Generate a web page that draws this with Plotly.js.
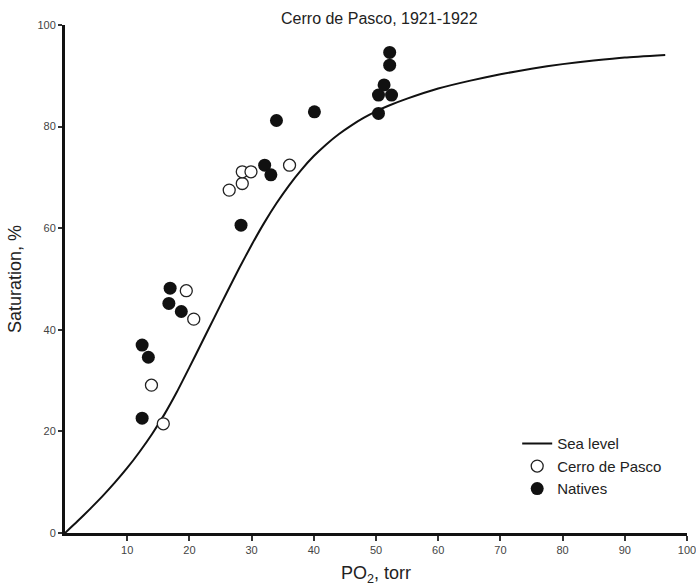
<!DOCTYPE html>
<html>
<head>
<meta charset="utf-8">
<script src="https://cdn.plot.ly/plotly-3.0.1.min.js"></script>
<style>html,body{margin:0;padding:0;background:#fff;}#chart{width:696px;height:586px;}</style>
</head>
<body>
<div id="chart"></div>
<script>
// Sea level oxygen dissociation curve
const seaLevelPO2 = [0, 2, 4, 6, 8, 10, 12, 14, 16, 18, 20, 22, 24, 26, 28, 30, 32, 34, 36, 38, 40, 42, 44, 46, 48, 50, 52, 55, 60, 65, 70, 75, 80, 85, 90, 96.5];
const seaLevelSat = [0, 2.3, 4.7, 7.2, 9.9, 12.8, 16.0, 19.5, 23.4, 27.8, 32.6, 37.5, 42.4, 47.3, 52.1, 56.7, 61.0, 64.9, 68.4, 71.5, 74.2, 76.5, 78.5, 80.2, 81.7, 83.0, 84.1, 85.5, 87.5, 89.0, 90.3, 91.4, 92.3, 93.0, 93.6, 94.1];

// Cerro de Pasco (open circles)
const cerroPO2 = [13.9, 15.8, 19.5, 20.7, 26.4, 28.5, 28.5, 29.9, 36.1];
const cerroSat = [29.1, 21.5, 47.7, 42.1, 67.5, 68.8, 71.1, 71.1, 72.4];

// Natives (filled circles)
const nativesPO2 = [12.4, 12.4, 13.4, 16.9, 16.7, 18.7, 28.3, 32.1, 33.1, 34.0, 40.1, 50.4, 50.4, 51.3, 52.5, 52.2, 52.2];
const nativesSat = [22.6, 37.0, 34.6, 48.2, 45.2, 43.6, 60.6, 72.4, 70.5, 81.2, 82.9, 82.6, 86.2, 88.2, 86.2, 92.1, 94.6];

const xTicks = [10, 20, 30, 40, 50, 60, 70, 80, 90, 100];
const yTicks = [0, 20, 40, 60, 80, 100];

const traces = [
  {x: seaLevelPO2, y: seaLevelSat, mode: 'lines', name: 'Sea level', line: {color: '#111', width: 2, shape: 'spline', smoothing: 0.5}},
  {x: cerroPO2, y: cerroSat, mode: 'markers', name: 'Cerro de Pasco', marker: {symbol: 'circle', size: 12, color: '#fff', line: {color: '#222', width: 1.3}}},
  {x: nativesPO2, y: nativesSat, mode: 'markers', name: 'Natives', marker: {symbol: 'circle', size: 13, color: '#111', line: {color: '#111', width: 0}}}
];

const layout = {
  width: 696, height: 586,
  margin: {l: 65, r: 9, t: 25, b: 53},
  paper_bgcolor: '#fff', plot_bgcolor: '#fff',
  font: {family: 'Liberation Sans, Arial, sans-serif', color: '#222'},
  title: {text: 'Cerro de Pasco, 1921-1922', font: {size: 16, color: '#222'}, x: 0.545, xanchor: 'center', y: 0.968, yanchor: 'middle', yref: 'container'},
  showlegend: true,
  legend: {x: 0.727, y: 0.208, xanchor: 'left', yanchor: 'top', bgcolor: 'rgba(0,0,0,0)', font: {size: 15, color: '#222'}, itemwidth: 30, tracegroupgap: 0},
  xaxis: {
    range: [0, 100], tickvals: xTicks, ticktext: xTicks.map(String),
    showgrid: false, zeroline: false, showline: true, linecolor: '#111', linewidth: 3,
    ticks: 'outside', ticklen: 5, tickwidth: 1.5, tickcolor: '#333',
    tickfont: {size: 11, color: '#444'}, ticklabeloverflow: 'allow',
    title: {text: 'PO<sub>2</sub>, torr', font: {size: 18, color: '#222'}, standoff: 12}
  },
  yaxis: {
    range: [0, 100], tickvals: yTicks, ticktext: yTicks.map(String),
    showgrid: false, zeroline: false, showline: true, linecolor: '#111', linewidth: 3,
    ticks: 'outside', ticklen: 4, tickwidth: 1.5, tickcolor: '#333',
    tickfont: {size: 11, color: '#444'},
    title: {text: 'Saturation, %', font: {size: 18, color: '#222'}, standoff: 12}
  }
};

Plotly.newPlot('chart', traces, layout, {displayModeBar: false, responsive: false});
</script>
</body>
</html>
